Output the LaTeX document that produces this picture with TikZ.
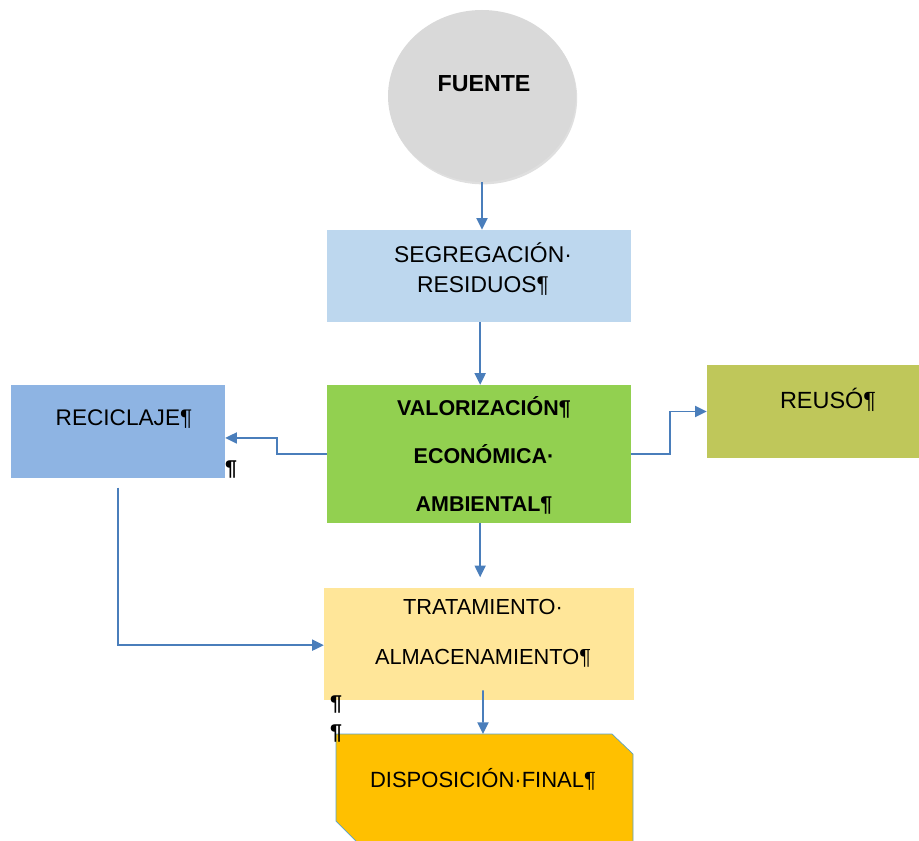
\documentclass[tikz,border=0pt]{standalone}
\usepackage{fontspec}
\setmainfont{Liberation Sans}
\usepackage{xcolor}
\usetikzlibrary{shapes.geometric, arrows.meta, positioning, calc, shadows}

\definecolor{gris}{HTML}{D9D9D9}
\definecolor{celeste}{HTML}{BDD7EE}
\definecolor{verde}{HTML}{92D050}
\definecolor{azulrec}{HTML}{8EB4E3}
\definecolor{oliva}{HTML}{BFC75A}
\definecolor{crema}{HTML}{FFE699}
\definecolor{naranja}{HTML}{FFC000}
\definecolor{borde}{HTML}{5AA2C8}
\definecolor{linea}{HTML}{4A7EBB}

\begin{document}
\begin{tikzpicture}[
    x=0.03cm, y=-0.03cm,
    font=\fontsize{18.3}{22}\selectfont,
    fuente/.style={ellipse, fill=gris, minimum width=5.64cm, minimum height=5.16cm, inner sep=0pt, drop shadow={opacity=0.25, shadow xshift=1pt, shadow yshift=-2pt}},
    caja/.style={rectangle, inner sep=0pt},
    texto/.style={align=center, inner sep=0pt},
    pilcrow/.style={inner sep=0pt, font=\fontsize{18.3}{22}\selectfont\bfseries},
    flecha/.style={-{Triangle[length=10pt, width=9.5pt]}, line width=1.4pt, draw=linea}
  ]
    \useasboundingbox (0,0) rectangle (919,841);

    % Nodes
    \node[fuente] (fue) at (482,96) {};
    \node[texto, font=\fontsize{19.8}{24}\selectfont\bfseries] (tfue) at (484,84) {FUENTE};

    \node[caja, fill=celeste, minimum width=9.12cm, minimum height=2.76cm] (seg) at (479,276) {};
    \node[texto, font=\fontsize{19.5}{25.5}\selectfont] (tseg) at (483,269) {SEGREGACIÓN·\\RESIDUOS¶};

    \node[caja, fill=verde, minimum width=9.12cm, minimum height=4.14cm] (val) at (479,454) {};
    \node[texto, font=\fontsize{18.3}{41}\selectfont\bfseries] (tval) at (484,455) {VALORIZACIÓN¶\\ECONÓMICA·\\AMBIENTAL¶};

    \node[caja, fill=azulrec, minimum width=6.42cm, minimum height=2.79cm] (rec) at (118,431.5) {};
    \node[texto, font=\fontsize{19.3}{23}\selectfont] (trec) at (124,419) {RECICLAJE¶};
    \node[pilcrow] (prec) at (231,470) {¶};

    \node[caja, fill=oliva, minimum width=6.36cm, minimum height=2.79cm] (reu) at (813,411.5) {};
    \node[texto, font=\fontsize{20}{24}\selectfont] (treu) at (828,400) {REUSÓ¶};

    \node[caja, fill=crema, minimum width=9.3cm, minimum height=3.36cm] (tra) at (479,644) {};
    \node[texto, font=\fontsize{18.6}{42.5}\selectfont] (ttra) at (483,633) {TRATAMIENTO·\\ALMACENAMIENTO¶};
    \node[pilcrow] (ptra1) at (336,704) {¶};

    % Disposicion final
    \filldraw[fill=naranja, draw=borde, line width=0.6pt]
      (336,734) -- (612,734) -- (633,754) -- (633,845) -- (360,845) -- (336,821) -- cycle;
    \coordinate (disptop) at (483,734);
    \node[texto, font=\fontsize{18.8}{22}\selectfont] (tdisp) at (483,779) {DISPOSICIÓN·FINAL¶};
    \node[pilcrow] (ptra2) at (336,733) {¶};

    % Connectors
    \draw[flecha] (fue.south) -- (fue.south |- seg.north);
    \draw[flecha] ([xshift=1pt]seg.south) -- ([xshift=1pt]val.north);
    \draw[flecha] (val.west) -- (277,454) |- ([yshift=-5.5pt]rec.east);
    \draw[flecha] (val.east) -- (670,454) |- (reu.west);
    \draw[flecha, shorten >=9pt] ([xshift=1pt]val.south) -- ([xshift=1pt]tra.north);
    \draw[flecha] ([yshift=-8pt]rec.south) |- ([yshift=-1pt]tra.west);
    \draw[flecha] ([xshift=3.4pt, yshift=8.5pt]tra.south) -- (disptop);

  \end{tikzpicture}
\end{document}
